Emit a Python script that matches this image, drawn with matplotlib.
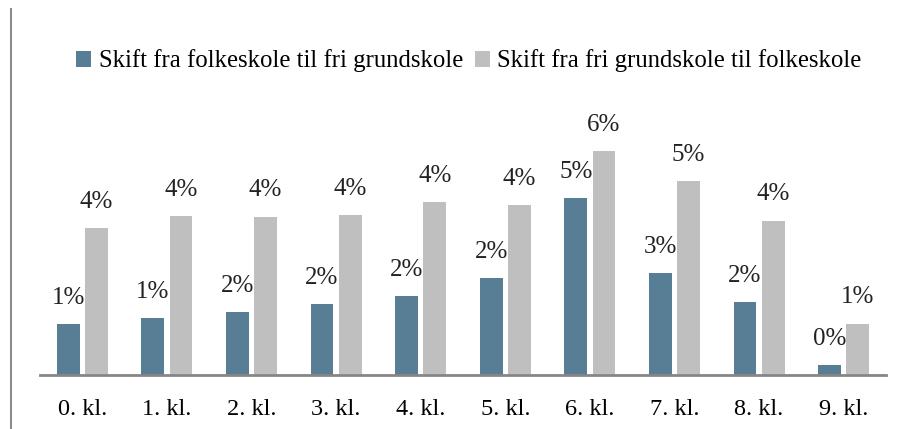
import matplotlib.pyplot as plt
import numpy as np
from matplotlib.lines import Line2D

plt.rcParams['font.family'] = ['Liberation Serif', 'DejaVu Serif']

klasser = ['0. kl.', '1. kl.', '2. kl.', '3. kl.', '4. kl.',
           '5. kl.', '6. kl.', '7. kl.', '8. kl.', '9. kl.']
til_fri = [1.31, 1.45, 1.61, 1.82, 2.03, 2.48, 4.54, 2.62, 1.86, 0.26]
til_folke = [3.76, 4.07, 4.06, 4.10, 4.44, 4.36, 5.74, 4.97, 3.96, 1.32]
navne = ['Skift fra folkeskole til fri grundskole',
         'Skift fra fri grundskole til folkeskole']

blaa = '#587E95'
graa = '#BFBFBF'

fig = plt.figure(figsize=(9.02, 4.29), dpi=100)
ax = fig.add_axes([40 / 902, 54 / 429, 846 / 902, 250 / 429])

x = np.arange(len(klasser))
w = 0.27
off = 0.167
b1 = ax.bar(x - off, til_fri, w, color=blaa, label=navne[0])
b2 = ax.bar(x + off, til_folke, w, color=graa, label=navne[1])

for bars, vals in [(b1, til_fri), (b2, til_folke)]:
    for b, v in zip(bars, vals):
        ax.annotate(f'{v:.0f}%', (b.get_x() + b.get_width() / 2, v),
                    xytext=(0, 11), textcoords='offset points',
                    ha='center', va='bottom', fontsize=18, color='#222222')

ax.set_xlim(-0.5, len(klasser) - 0.5)
ax.set_ylim(0, 250 / 39)
ax.set_xticks(x)
ax.set_xticklabels(klasser, fontsize=17.5)
ax.tick_params(axis='x', length=0, pad=17)
ax.set_yticks([])
for s in ['top', 'right', 'left']:
    ax.spines[s].set_visible(False)
ax.spines['bottom'].set_color('#868686')
ax.spines['bottom'].set_linewidth(2)

fig.legend(loc='center', bbox_to_anchor=(469 / 902, 1 - 61 / 429), ncol=2,
           frameon=False, fontsize=17.8, handlelength=0.6, handleheight=0.6,
           handletextpad=0.3, columnspacing=0.5)

fig.add_artist(Line2D([11 / 902, 11 / 902], [0, 1 - 9 / 429],
                      transform=fig.transFigure, color='#8C8C8C', lw=1.5))

fig.savefig('out.png', dpi=100)
